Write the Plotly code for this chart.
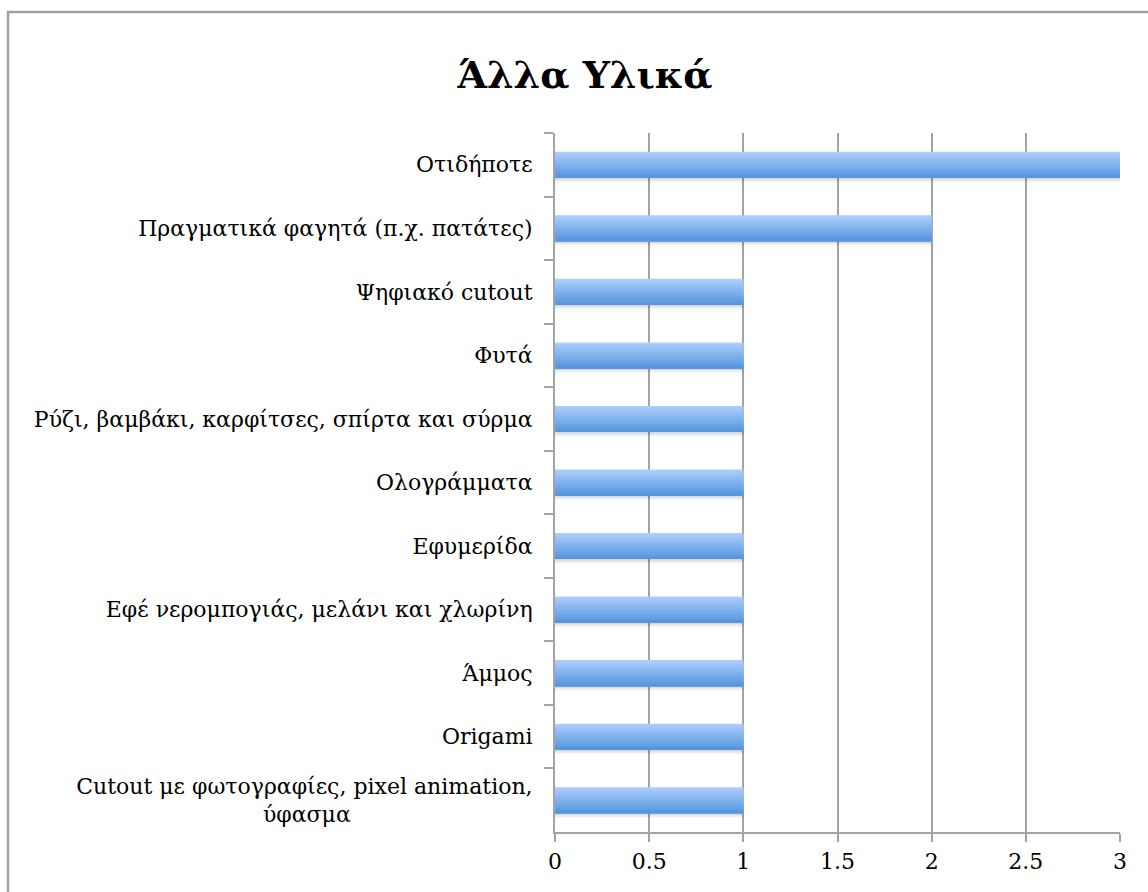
import plotly.graph_objects as go

# Categories listed top to bottom
categories = [
    "Οτιδήποτε",
    "Πραγματικά φαγητά (π.χ. πατάτες)",
    "Ψηφιακό cutout",
    "Φυτά",
    "Ρύζι, βαμβάκι, καρφίτσες, σπίρτα και σύρμα",
    "Ολογράμματα",
    "Εφυμερίδα",
    "Εφέ νερομπογιάς, μελάνι και χλωρίνη",
    "Άμμος",
    "Origami",
    "Cutout με φωτογραφίες, pixel animation,<br>ύφασμα" + "\u00a0" * 26,
]
values = [3, 2, 1, 1, 1, 1, 1, 1, 1, 1, 1]
x_ticks = [0, 0.5, 1, 1.5, 2, 2.5, 3]
x_tick_text = ["0", "0.5", "1", "1.5", "2", "2.5", "3"]

W, H = 1148, 892
L, R, T, B = 555, 1120, 133, 832
FONT = "DejaVu Serif"
GRID = "#a3a3a3"
LABEL_SIZE = 22

fig = go.Figure()

bar_w = 0.41

# Soft drop shadow just under each bar
for dy, alpha in [(0.075, 0.035), (0.05, 0.05), (0.025, 0.07)]:
    fig.add_trace(go.Bar(
        y=categories, x=values, orientation="h",
        width=bar_w, offset=-bar_w / 2 + dy,
        marker=dict(color="rgba(0,0,0,%.3f)" % alpha, line_width=0),
        hoverinfo="skip", showlegend=False,
    ))

# Vertical gradient on each bar: stacked slices, light on top, darker below
n_slices = 14
step = bar_w / n_slices
top_rgb = (171, 206, 251)
bot_rgb = (86, 150, 222)
for i in range(n_slices):
    f = i / (n_slices - 1)
    rgb = tuple(round(a + (b - a) * f) for a, b in zip(top_rgb, bot_rgb))
    fig.add_trace(go.Bar(
        y=categories, x=values, orientation="h",
        width=bar_w - i * step,
        offset=-bar_w / 2 + i * step,
        marker=dict(color="rgb(%d,%d,%d)" % rgb, line_width=0),
        hoverinfo="skip", showlegend=False,
    ))

fig.update_layout(
    width=W, height=H,
    margin=dict(l=L, r=W - R, t=T, b=H - B, pad=0),
    paper_bgcolor="white", plot_bgcolor="white",
    barmode="overlay",
    font=dict(family=FONT, size=LABEL_SIZE, color="black"),
    title=dict(
        text="<b>Άλλα Υλικά</b>",
        x=585 / W, xref="container", xanchor="center",
        y=1 - 75 / H, yref="container", yanchor="middle",
        font=dict(family=FONT, size=38, color="black"),
    ),
    xaxis=dict(
        range=[0, 3], tickvals=x_ticks, ticktext=x_tick_text,
        showgrid=True, gridcolor=GRID, gridwidth=2,
        showline=True, linecolor=GRID, linewidth=2,
        ticks="outside", ticklen=8, tickwidth=2, tickcolor=GRID,
        zeroline=False, ticklabelstandoff=1,
        tickfont=dict(family=FONT, size=LABEL_SIZE, color="black"),
    ),
    yaxis=dict(
        type="category", autorange="reversed",
        showgrid=False, zeroline=False,
        showline=True, linecolor=GRID, linewidth=2,
        ticks="outside", ticklen=9, tickwidth=2, tickcolor=GRID,
        tickson="boundaries", ticklabelstandoff=16,
        tickfont=dict(family=FONT, size=LABEL_SIZE, color="black"),
    ),
)

# Outer frame around the chart
def px_x(p):
    return (p - L) / (R - L)

def px_y(p):
    return (B - p) / (B - T)

fig.add_shape(
    type="rect", xref="paper", yref="paper",
    x0=px_x(8), x1=px_x(W + 20), y0=px_y(H + 20), y1=px_y(12),
    line=dict(color="#a0a0a0", width=2.5), fillcolor="rgba(0,0,0,0)",
    layer="below",
)

fig.write_html("out.html")
